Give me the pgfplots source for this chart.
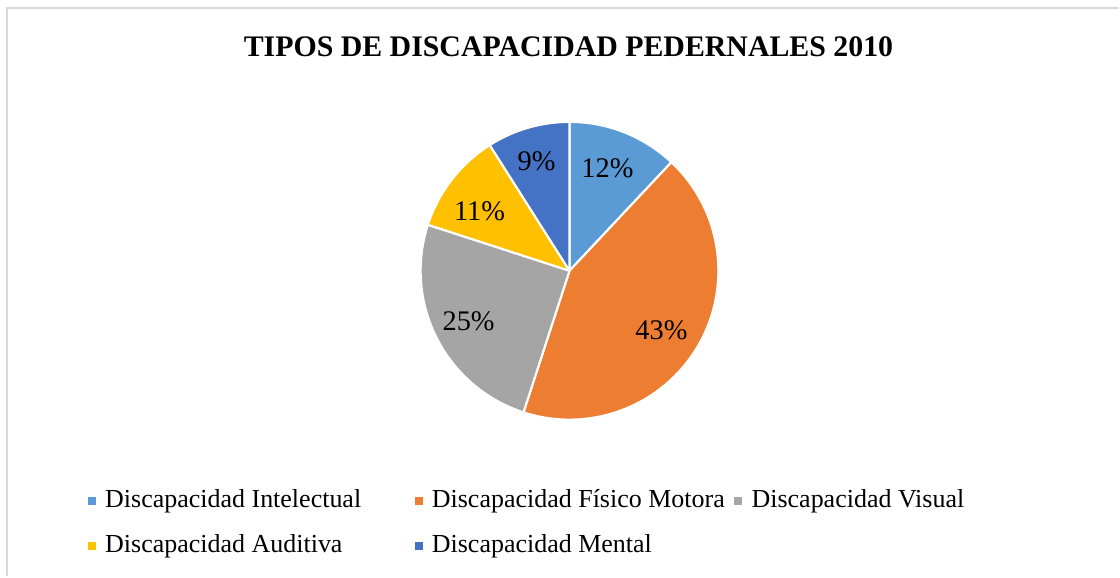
\documentclass[border=0pt]{standalone}
\usepackage{fontspec}
\setmainfont{Liberation Serif}
\usepackage{pgfplots}
\pgfplotsset{compat=1.18}
\definecolor{cIntel}{HTML}{5B9BD5}
\definecolor{cMotor}{HTML}{ED7D31}
\definecolor{cVisual}{HTML}{A5A5A5}
\definecolor{cAudit}{HTML}{FFC000}
\definecolor{cMental}{HTML}{4472C4}
\definecolor{frame}{HTML}{D9D9D9}

% pie radius (149 px at 0.75pt/px)
\def\pieR{111.75pt}
% slice: cumulative start %, share %, colour
\newcommand{\slice}[3]{%
  \fill[#3,draw=white,line width=1.6pt,line join=round]
    (axis cs:570,271) -- ++({90-3.6*#1}:\pieR)
    arc[start angle={90-3.6*#1},end angle={90-3.6*(#1+#2)},radius=\pieR] -- cycle;
}
\newcommand{\slicelabel}[3]{%
  \node[font=\fontsize{21.3}{24}\selectfont] at (axis cs:#2,#3) {#1\%};
}
\newcommand{\legitem}[4]{%
  \fill[#3] (axis cs:{#1-8},{#2-11}) rectangle (axis cs:{#1},{#2-3});
  \node[anchor=base west,inner sep=0pt,font=\fontsize{19.5}{23}\selectfont] at (axis cs:{#1+9},#2) {#4};
}

\begin{document}
\begin{tikzpicture}
\begin{axis}[
  scale only axis,width=840pt,height=432.75pt,
  xmin=0,xmax=1120,ymin=0,ymax=577,y dir=reverse,
  hide axis,clip=false
]
\path (axis cs:0,0) rectangle (axis cs:1120,577);
\draw[frame,line width=1.5pt] (axis cs:7,577) -- (axis cs:7,8) -- (axis cs:1120,8);
\node[font=\bfseries\fontsize{22.4}{26}\selectfont] at (axis cs:569,47) {TIPOS DE DISCAPACIDAD PEDERNALES 2010};
% percentages
\slice{0}{12}{cIntel}
\slice{12}{43}{cMotor}
\slice{55}{25}{cVisual}
\slice{80}{11}{cAudit}
\slice{91}{9}{cMental}
\slicelabel{12}{608}{168}
\slicelabel{43}{662}{331}
\slicelabel{25}{469}{322}
\slicelabel{11}{480}{211}
\slicelabel{9}{537}{161}
\legitem{96}{508}{cIntel}{Discapacidad Intelectual}
\legitem{423}{508}{cMotor}{Discapacidad Físico Motora}
\legitem{743}{508}{cVisual}{Discapacidad Visual}
\legitem{96}{553}{cAudit}{Discapacidad Auditiva}
\legitem{423}{553}{cMental}{Discapacidad Mental}
\end{axis}
\end{tikzpicture}
\end{document}
